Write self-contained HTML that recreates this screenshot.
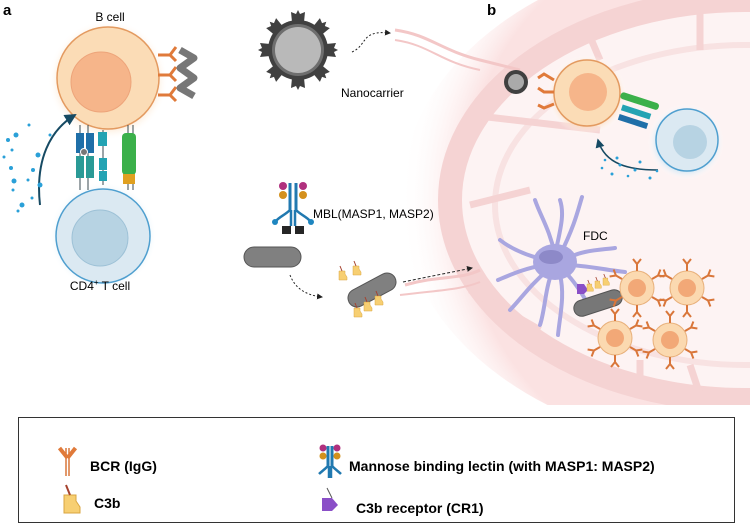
<!DOCTYPE html>
<html><head><meta charset="utf-8"><style>
html,body{margin:0;padding:0;background:#fff;}
svg{display:block;font-family:"Liberation Sans",sans-serif;}
</style></head><body>
<svg width="750" height="530" viewBox="0 0 750 530" xmlns="http://www.w3.org/2000/svg">
<defs>
<radialGradient id="glow" cx="745" cy="200" r="345" gradientUnits="userSpaceOnUse">
<stop offset="0.82" stop-color="#fbe2e2"/><stop offset="1" stop-color="#fff" stop-opacity="0"/>
</radialGradient>
<radialGradient id="og" cx="0.5" cy="0.5" r="0.5"><stop offset="0.7" stop-color="#fbd3a8"/><stop offset="1" stop-color="#fff" stop-opacity="0"/></radialGradient>
<radialGradient id="bg" cx="0.5" cy="0.5" r="0.5"><stop offset="0.7" stop-color="#bfe0f2"/><stop offset="1" stop-color="#fff" stop-opacity="0"/></radialGradient>
<marker id="ar" markerWidth="6" markerHeight="6" refX="5" refY="3" orient="auto"><path d="M0,0 L6,3 L0,6z" fill="#222"/></marker>
<marker id="ar2" markerWidth="6" markerHeight="6" refX="5" refY="3" orient="auto"><path d="M0,0 L6,3 L0,6z" fill="#164a63"/></marker>
<g id="ab"><path d="M0,0 v-7 M0,-7 l-4,-5 M0,-7 l4,-5" stroke="#d9763a" stroke-width="2" fill="none"/></g>
<g id="sb"><circle r="17" fill="#fbd9b0" stroke="#e8b07a"/><circle r="9" fill="#f2a877"/>
<use href="#ab" transform="translate(0,-17)"/><use href="#ab" transform="translate(0,17) rotate(180)"/>
<use href="#ab" transform="translate(15,-9) rotate(60)"/><use href="#ab" transform="translate(-15,-9) rotate(-60)"/>
<use href="#ab" transform="translate(15,9) rotate(120)"/><use href="#ab" transform="translate(-15,9) rotate(-120)"/></g>
<g id="c3"><path d="M0,0 h6 v3 l2,3 v3 h-8z" fill="#f7cf72" stroke="#d9a640" stroke-width="0.5"/><path d="M3,0 l-2,-5" stroke="#a5422e"/></g>
<g id="tooth"><path d="M-6,-28 L-7,-38 L-2,-36 L0,-40 L2,-36 L7,-38 L6,-28z" fill="#404040"/></g>
</defs>
<!-- lymph node -->
<clipPath id="cl"><rect x="0" y="0" width="750" height="405"/></clipPath>
<g clip-path="url(#cl)">
<ellipse cx="745" cy="200" rx="345" ry="250" fill="url(#glow)"/>
<ellipse cx="745" cy="200" rx="295" ry="200" fill="#fdf3f3" stroke="#f5d3d3" stroke-width="24"/>
<ellipse cx="745" cy="205" rx="250" ry="160" fill="none" stroke="#f8e2e2" stroke-width="6"/>
<g stroke="#f5d3d3" stroke-width="7" fill="none">
<path d="M470,115 L600,130"/><path d="M470,205 L530,190"/><path d="M470,290 L540,330"/>
<path d="M585,25 L600,60"/><path d="M700,10 L700,50"/><path d="M640,385 L640,360"/><path d="M700,395 L690,365"/>
</g>
<path d="M395,30 C430,35 440,50 480,60 L520,70" stroke="#f3c7c7" stroke-width="3" fill="none"/>
<path d="M395,40 C430,45 440,62 480,70" stroke="#f3c7c7" stroke-width="2" fill="none"/>
<path d="M405,285 C440,275 460,280 480,270" stroke="#f3c7c7" stroke-width="3" fill="none"/>
<path d="M400,295 C440,290 460,290 480,282" stroke="#f3c7c7" stroke-width="2" fill="none"/>
</g>
<text x="3" y="15" font-size="15" font-weight="bold">a</text>
<text x="487" y="15" font-size="15" font-weight="bold">b</text>
<!-- panel a -->
<circle cx="108" cy="80" r="60" fill="url(#og)"/>
<circle cx="108" cy="78" r="51" fill="#fbdcb6" stroke="#e39a60" stroke-width="1.5"/>
<circle cx="101" cy="82" r="30" fill="#f6b58a" stroke="#eda47a"/>
<text x="110" y="21" font-size="12" text-anchor="middle">B cell</text>
<circle cx="103" cy="236" r="54" fill="url(#bg)"/>
<circle cx="103" cy="236" r="47" fill="#dbe9f2" stroke="#4f9fcf" stroke-width="1.5"/>
<circle cx="100" cy="238" r="28" fill="#b7d3e3" stroke="#9dc1d6"/>
<text x="100" y="290" font-size="12" text-anchor="middle">CD4<tspan font-size="8" dy="-5">+</tspan><tspan dy="5"> T cell</tspan></text>
<g stroke="#3a4a50" stroke-width="1"><path d="M80,125 V190 M88,125 V190 M103,130 V185 M128,125 V190 M133,125 V190"/></g>
<rect x="76" y="133" width="8" height="20" fill="#1f6fa8"/><rect x="86" y="133" width="8" height="20" fill="#1f6fa8"/>
<rect x="76" y="156" width="8" height="22" fill="#2a9a96"/><rect x="86" y="156" width="8" height="22" fill="#2a9a96"/>
<circle cx="84" cy="152" r="3.5" fill="#777" stroke="#fff"/>
<rect x="98" y="132" width="9" height="14" fill="#23a3b3"/><rect x="99" y="158" width="8" height="12" fill="#23a3b3"/><rect x="99" y="171" width="8" height="10" fill="#23a3b3"/>
<rect x="122" y="133" width="14" height="42" rx="4" fill="#3bb04a"/><rect x="123" y="174" width="12" height="10" fill="#e0a020"/>
<g stroke="#e07a3a" stroke-width="3" fill="none"><path d="M158,55 h12 l6,-8 M170,55 l6,6"/><path d="M158,75 h12 l6,-8 M170,75 l6,6"/><path d="M158,95 h12 l6,-8 M170,95 l6,6"/></g>
<path d="M180,50 l14,8 -14,10 14,10 -14,10 14,8" stroke="#777" stroke-width="7" fill="none" stroke-linejoin="round"/>
<path d="M40,205 C35,160 50,130 75,115" stroke="#164a63" stroke-width="2" fill="none" marker-end="url(#ar2)"/>
<g fill="#2aa0d8"><circle cx="8" cy="140" r="2"/><circle cx="16" cy="135" r="2.5"/><circle cx="29" cy="125" r="1.5"/><circle cx="50" cy="135" r="1.5"/><circle cx="12" cy="150" r="1.5"/><circle cx="38" cy="155" r="2.5"/><circle cx="4" cy="157" r="1.5"/><circle cx="33" cy="170" r="2"/><circle cx="11" cy="168" r="2"/><circle cx="14" cy="181" r="2.5"/><circle cx="28" cy="180" r="1.5"/><circle cx="40" cy="185" r="2.5"/><circle cx="13" cy="190" r="1.5"/><circle cx="22" cy="205" r="2.5"/><circle cx="32" cy="198" r="1.5"/><circle cx="18" cy="211" r="1.5"/></g>
<!-- nanocarrier -->
<g transform="translate(298,50)">
<use href="#tooth"/><use href="#tooth" transform="rotate(45)"/><use href="#tooth" transform="rotate(90)"/><use href="#tooth" transform="rotate(135)"/>
<use href="#tooth" transform="rotate(180)"/><use href="#tooth" transform="rotate(225)"/><use href="#tooth" transform="rotate(270)"/><use href="#tooth" transform="rotate(315)"/>
<circle r="30" fill="#404040"/>
<circle r="26" fill="#6e6e6e"/><circle r="23" fill="#b9b9b9"/>
</g>
<path d="M352,52 C368,45 360,30 390,33" stroke="#222" stroke-dasharray="2,2" fill="none" marker-end="url(#ar)"/>
<text x="341" y="97" font-size="12">Nanocarrier</text>
<!-- MBL -->
<g transform="translate(293,195)">
<path d="M-3,-12 V15 M3,-12 V15" stroke="#2179b0" stroke-width="3"/>
<path d="M-3,15 C-8,20 -14,22 -17,26 M3,15 C8,20 14,22 17,26 M-2,15 v16 M2,15 v16" stroke="#2179b0" stroke-width="2.5" fill="none"/>
<circle cx="-10" cy="-9" r="4" fill="#b0307e"/><circle cx="10" cy="-9" r="4" fill="#b0307e"/>
<circle cx="-10" cy="0" r="4" fill="#d4901c"/><circle cx="10" cy="0" r="4" fill="#d4901c"/>
<circle cx="-18" cy="27" r="3" fill="#1e86c0"/><circle cx="18" cy="27" r="3" fill="#1e86c0"/>
<path d="M-11,31 h9 v8 h-9z M2,31 h9 v8 h-9z" fill="#262626"/>
</g>
<rect x="244" y="247" width="57" height="20" rx="10" fill="#808080" stroke="#555"/>
<text x="313" y="218" font-size="12">MBL(MASP1, MASP2)</text>
<path d="M290,275 C295,288 305,295 322,297" stroke="#222" stroke-dasharray="2,2" fill="none" marker-end="url(#ar)"/>
<g transform="translate(372,290) rotate(-28)"><rect x="-26" y="-9" width="52" height="18" rx="9" fill="#808080" stroke="#555"/></g>
<use href="#c3" transform="translate(339,271)"/><use href="#c3" transform="translate(353,266)"/>
<use href="#c3" transform="translate(354,308)"/><use href="#c3" transform="translate(364,302)"/><use href="#c3" transform="translate(375,296)"/>
<path d="M403,282 L472,268" stroke="#222" stroke-dasharray="3,2" fill="none" marker-end="url(#ar)"/>
<!-- panel b immune synapse -->
<circle cx="587" cy="95" r="40" fill="url(#og)"/>
<circle cx="587" cy="93" r="33" fill="#fbdcb6" stroke="#e39a60" stroke-width="1.5"/>
<circle cx="588" cy="92" r="19" fill="#f6b58a"/>
<circle cx="686" cy="142" r="38" fill="url(#bg)"/>
<circle cx="687" cy="140" r="31" fill="#dbe9f2" stroke="#4f9fcf" stroke-width="1.5"/>
<circle cx="690" cy="142" r="17" fill="#b7d3e3"/>
<g transform="translate(618,103) rotate(18)">
<rect x="0" y="-12" width="40" height="7" rx="3" fill="#3bb04a"/><rect x="5" y="0" width="30" height="6" fill="#23a3b3"/><rect x="5" y="10" width="30" height="6" fill="#1f6fa8"/>
</g>
<g transform="translate(516,82)"><circle r="12" fill="#404040"/><circle r="8" fill="#aaa"/></g>
<g stroke="#e07a3a" stroke-width="3" fill="none"><path d="M554,80 l-10,-6 l-6,4 M554,92 l-10,0 l-6,-4 M554,104 l-10,4 l-6,-3"/></g>
<path d="M658,170 C630,170 605,165 598,140" stroke="#164a63" stroke-width="1.5" fill="none" marker-end="url(#ar2)"/>
<g fill="#2aa0d8"><circle cx="605" cy="160" r="1.3"/><circle cx="617" cy="158" r="1.5"/><circle cx="620" cy="165" r="1.5"/><circle cx="635" cy="170" r="1.5"/><circle cx="640" cy="162" r="1.5"/><circle cx="612" cy="174" r="1.5"/><circle cx="628" cy="176" r="1.3"/><circle cx="650" cy="178" r="1.5"/><circle cx="657" cy="171" r="1.3"/><circle cx="602" cy="168" r="1.3"/></g>
<!-- FDC -->
<g stroke="#a9a6e0" stroke-width="4" fill="none" stroke-linecap="round">
<path d="M555,255 C550,230 540,215 535,200"/><path d="M555,255 C560,230 565,215 560,200"/><path d="M560,255 C575,225 578,210 582,197"/>
<path d="M565,260 C580,250 600,250 615,248"/><path d="M565,265 C585,265 605,270 625,272"/>
<path d="M545,260 C525,255 510,248 500,240"/><path d="M545,265 C525,268 510,275 498,280"/><path d="M548,270 C530,285 520,300 510,310"/>
<path d="M560,275 C565,295 560,315 558,335"/><path d="M565,272 C578,285 585,300 592,310"/><path d="M552,272 C545,290 545,310 540,325"/>
</g>
<ellipse cx="555" cy="262" rx="22" ry="18" fill="#a9a6e0"/>
<ellipse cx="551" cy="257" rx="12" ry="7" fill="#8d89c8"/>
<text x="583" y="240" font-size="12">FDC</text>
<path d="M577,284 h7 l4,6 -4,4 h-7z" fill="#8a4fc7"/>
<g transform="translate(598,303) rotate(-18)"><rect x="-25" y="-8" width="50" height="16" rx="8" fill="#777" stroke="#555"/></g>
<use href="#c3" transform="translate(587,284) scale(0.8)"/><use href="#c3" transform="translate(595,281) scale(0.8)"/><use href="#c3" transform="translate(603,278) scale(0.8)"/>
<use href="#sb" transform="translate(637,288)"/><use href="#sb" transform="translate(687,288)"/>
<use href="#sb" transform="translate(615,338)"/><use href="#sb" transform="translate(670,340)"/>
<!-- legend -->
<rect x="18.5" y="417.5" width="716" height="105" fill="#fff" stroke="#333"/>
<g transform="translate(66,448)"><path d="M0,0 v28 M3,0 v28" stroke="#d9763a" stroke-width="1.5"/><path d="M1.5,10 l-8,-10 M1.5,10 l8,-10" stroke="#e07a3a" stroke-width="4"/></g>
<text x="90" y="471" font-size="14" font-weight="bold">BCR (IgG)</text>
<g transform="translate(330,454)">
<path d="M-2,-8 V12 M2,-8 V12" stroke="#2179b0" stroke-width="3"/>
<path d="M-2,12 C-6,16 -9,18 -11,20 M2,12 C6,16 9,18 11,20 M-1,12 v12 M1,12 v12" stroke="#2179b0" stroke-width="2.5" fill="none"/>
<circle cx="-7" cy="-6" r="3.5" fill="#b0307e"/><circle cx="7" cy="-6" r="3.5" fill="#b0307e"/>
<circle cx="-7" cy="2" r="3.5" fill="#d4901c"/><circle cx="7" cy="2" r="3.5" fill="#d4901c"/>
</g>
<text x="349" y="471" font-size="14" font-weight="bold">Mannose binding lectin (with MASP1: MASP2)</text>
<g transform="translate(64,495) scale(2)"><use href="#c3"/></g>
<text x="94" y="508" font-size="14" font-weight="bold">C3b</text>
<path d="M327,488 l5,10" stroke="#555"/><path d="M322,498 h10 l6,7 -6,6 h-10z" fill="#8a4fc7"/>
<text x="356" y="513" font-size="14" font-weight="bold">C3b receptor (CR1)</text>
</svg>
</body></html>
